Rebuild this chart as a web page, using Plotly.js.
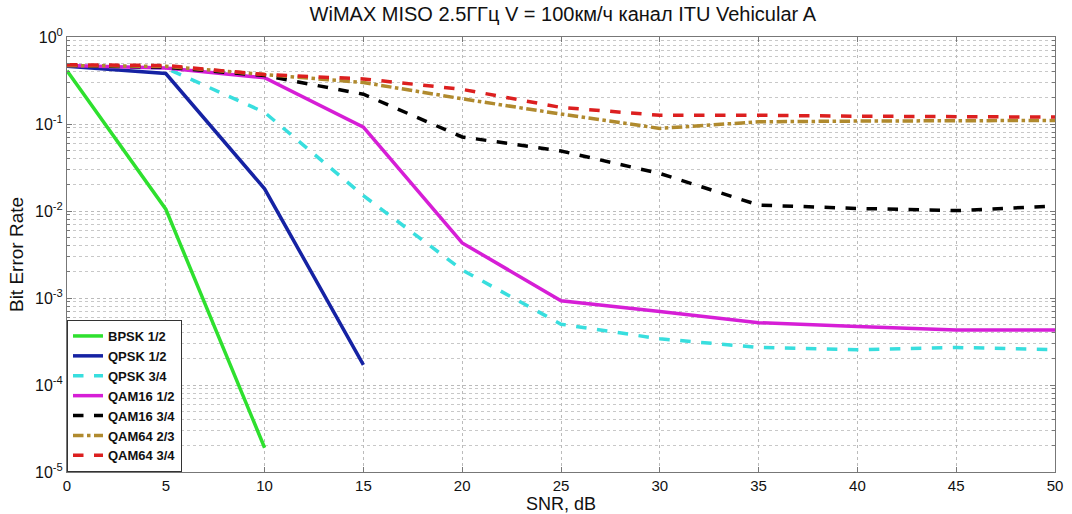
<!DOCTYPE html>
<html><head><meta charset="utf-8">
<script src="https://cdn.plot.ly/plotly-3.0.1.min.js"></script>
<style>html,body{margin:0;padding:0;background:#fff;}#plot{width:1072px;height:514px;}</style>
</head><body><div id="plot"></div>
<script>
const snr = [0, 5, 10, 15, 20, 25, 30, 35, 40, 45, 50];
const bpsk12 = [0.41, 0.0105, 1.9e-5];
const qpsk12 = [0.46, 0.38, 0.018, 1.7e-4];
const qpsk34 = [0.47, 0.44, 0.136, 0.015, 0.0021, 5.0e-4, 3.4e-4, 2.7e-4, 2.55e-4, 2.7e-4, 2.55e-4];
const qam16_12 = [0.47, 0.44, 0.34, 0.092, 0.0043, 9.3e-4, 7.0e-4, 5.2e-4, 4.7e-4, 4.3e-4, 4.3e-4];
const qam16_34 = [0.47, 0.45, 0.36, 0.22, 0.071, 0.049, 0.027, 0.0117, 0.0107, 0.0101, 0.0114];
const qam64_23 = [0.47, 0.46, 0.37, 0.30, 0.195, 0.13, 0.089, 0.106, 0.108, 0.11, 0.11];
const qam64_34 = [0.48, 0.47, 0.37, 0.33, 0.25, 0.155, 0.126, 0.126, 0.123, 0.122, 0.12];
const seriesNames = ['BPSK 1/2', 'QPSK 1/2', 'QPSK 3/4', 'QAM16 1/2', 'QAM16 3/4', 'QAM64 2/3', 'QAM64 3/4'];
const yTickVals = [1e-5, 1e-4, 1e-3, 1e-2, 1e-1, 1];
const yTickText = ['10<sup>-5</sup>', '10<sup>-4</sup>', '10<sup>-3</sup>', '10<sup>-2</sup>', '10<sup>-1</sup>', '10<sup>0</sup>'];

const series = [bpsk12, qpsk12, qpsk34, qam16_12, qam16_34, qam64_23, qam64_34];
const colors = ['#2ee02e', '#1522a3', '#38dede', '#d61ed6', '#000000', '#b08a2e', '#dc1f1f'];
const dashes = ['solid', 'solid', 'dash', 'solid', 'dash', 'dashdot', 'dash'];

const traces = series.map((vals, i) => ({
  type: 'scatter', mode: 'lines',
  x: snr.slice(0, vals.length), y: vals,
  name: seriesNames[i],
  line: {color: colors[i], width: 3.5, dash: dashes[i]}
}));

// minor grid positions (2..9 per decade)
const minorVals = [];
for (let e = -5; e < 0; e++) for (let m = 2; m <= 9; m++) minorVals.push(m * Math.pow(10, e));

const layout = {
  width: 1072, height: 514,
  margin: {l: 67, r: 17, t: 37, b: 42},
  paper_bgcolor: '#fff', plot_bgcolor: '#fff',
  font: {family: 'Liberation Sans, Arial, sans-serif', color: '#111'},
  title: {text: 'WiMAX MISO 2.5ГГц V = 100км/ч канал ITU Vehicular A', font: {size: 20}, x: 0.525, xanchor: 'center', y: 0.972, yanchor: 'middle'},
  xaxis: {
    range: [0, 50], dtick: 5, tick0: 0,
    showline: true, linecolor: '#777', linewidth: 1, mirror: 'ticks',
    ticks: 'inside', ticklen: 5, tickcolor: '#777',
    showgrid: true, gridcolor: '#bbb', griddash: 'dot', gridwidth: 1,
    zeroline: false,
    tickfont: {size: 15},
    title: {text: 'SNR, dB', font: {size: 18}, standoff: 3}
  },
  yaxis: {
    type: 'log', range: [-5, 0],
    tickmode: 'array', tickvals: yTickVals, ticktext: yTickText,
    showline: true, linecolor: '#777', linewidth: 1, mirror: 'ticks',
    ticks: 'inside', ticklen: 5, tickcolor: '#777',
    showgrid: true, gridcolor: '#bbb', griddash: 'dot', gridwidth: 1,
    zeroline: false,
    tickfont: {size: 16},
    minor: {tickmode: 'array', tickvals: minorVals, showgrid: true, gridcolor: '#c8c8c8', griddash: 'dot', ticks: 'inside', ticklen: 3, tickcolor: '#777'},
    title: {text: 'Bit Error Rate', font: {size: 19}, standoff: 6}
  },
  legend: {
    x: 0, y: 0, xanchor: 'left', yanchor: 'bottom',
    bgcolor: '#fff', bordercolor: '#333', borderwidth: 1,
    font: {size: 13, color: '#111', weight: 'bold'},
    tracegroupgap: 0, itemwidth: 30
  },
  showlegend: true
};

Plotly.newPlot('plot', traces, layout, {staticPlot: true, displayModeBar: false});
</script>
</body></html>
